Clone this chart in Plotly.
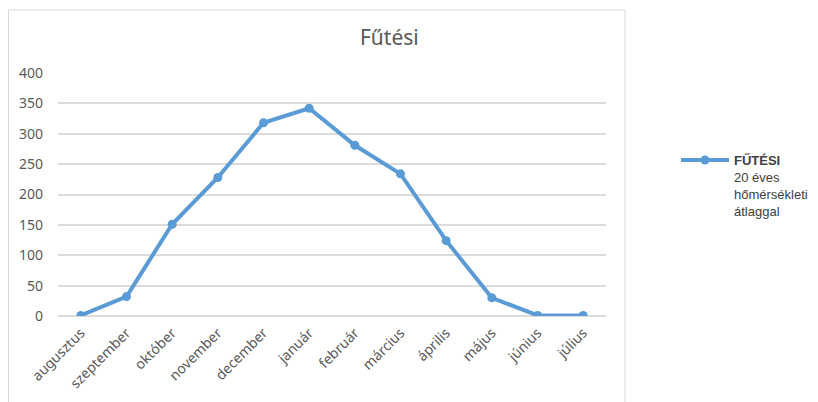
import plotly.graph_objects as go

months = ["augusztus", "szeptember", "október", "november", "december", "január",
          "február", "március", "április", "május", "június", "július"]
futesi = [1, 32, 151, 228, 318, 342, 281, 234, 124, 30, 1, 1]
y_ticks = [0, 50, 100, 150, 200, 250, 300, 350, 400]

series_name = "<b>FŰTÉSI</b><br>20 éves<br>hőmérsékleti<br>átlaggal"
title_text = "Fűtési"

fig = go.Figure()
fig.add_trace(go.Scatter(
    x=months, y=futesi, mode="lines+markers", name=series_name,
    line=dict(color="#5b9bd5", width=4),
    marker=dict(color="#5b9bd5", size=9),
))

# figure coordinates (page has an 8px body margin)
W, H = 810, 394
L, R, T, B = 50, 598, 65, 308

def px_x(p):
    return (p - L) / (R - L)

def px_y(p):
    return (B - p) / (B - T)

fig.update_layout(
    width=W, height=H,
    margin=dict(l=L, r=W - R, t=T, b=H - B, pad=0, autoexpand=False),
    paper_bgcolor="white", plot_bgcolor="white",
    font=dict(family="Liberation Sans, Arial, sans-serif", size=12, color="#595959"),
    title=dict(text=title_text, x=px_x(308), xanchor="center", y=1 - 30 / H, yanchor="middle",
               font=dict(family="Noto Sans, sans-serif", size=21, color="#595959")),
    showlegend=True,
    legend=dict(x=px_x(668), xanchor="left", y=px_y(137), yanchor="top",
                valign="top", bgcolor="rgba(0,0,0,0)", itemwidth=48,
                font=dict(family="Liberation Sans, Arial, sans-serif", size=13, color="#404040")),
    xaxis=dict(type="category", tickangle=-45, showgrid=False, zeroline=False,
               showline=False, ticks="", automargin=False, ticklabelstandoff=5,
               tickfont=dict(family="Noto Sans, sans-serif", size=14, color="#595959"),
               range=[-0.5, 11.5]),
    yaxis=dict(range=[0, 400], tickvals=y_ticks, showgrid=True, gridcolor="#dcdcdc",
               gridwidth=1.5, zeroline=True, zerolinecolor="#dcdcdc", zerolinewidth=1.5,
               showline=False, ticks="", ticklabelstandoff=14, automargin=False,
               tickfont=dict(family="Noto Sans, sans-serif", size=14, color="#595959")),
    shapes=[dict(type="rect", xref="paper", yref="paper",
                 x0=px_x(0.5), x1=px_x(617), y0=px_y(420), y1=px_y(2),
                 line=dict(color="#d9d9d9", width=1), fillcolor="rgba(0,0,0,0)", layer="below")],
)

fig.write_html("out.html")
